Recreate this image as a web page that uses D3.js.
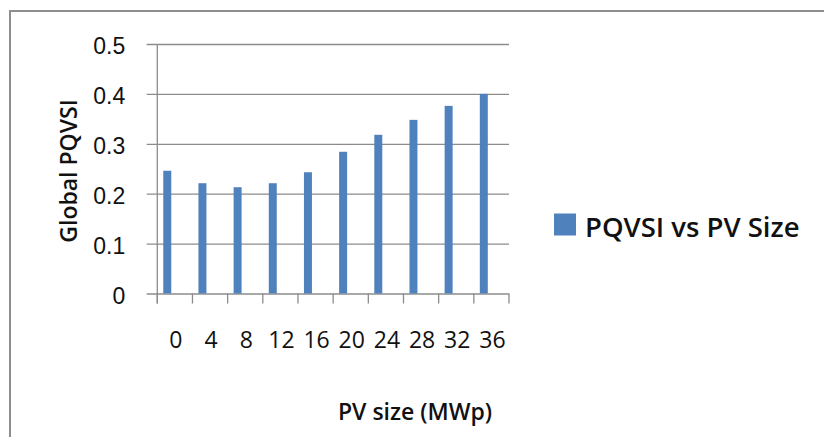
<!DOCTYPE html>
<html>
<head>
<meta charset="utf-8">
<script src="https://cdn.jsdelivr.net/npm/d3@7/dist/d3.min.js"></script>
<style>
  html, body { margin: 0; padding: 0; background: #fff; }
  svg { display: block; font-family: "Open Sans", "Noto Sans", sans-serif; }
</style>
</head>
<body>
<svg id="chart" width="824" height="437"></svg>
<script>
const categories = ["0", "4", "8", "12", "16", "20", "24", "28", "32", "36"];
const pqvsi = [0.246, 0.221, 0.213, 0.221, 0.243, 0.284, 0.318, 0.348, 0.376, 0.400];
const yTicks = [0, 0.1, 0.2, 0.3, 0.4, 0.5];
const seriesName = "PQVSI vs PV Size";
const xTitle = "PV size (MWp)";
const yTitle = "Global PQVSI";

const svg = d3.select("#chart");
const W = 824, H = 437;
const plot = { left: 157.3, right: 509, top: 44, bottom: 293.5 };
const gridColor = "#8c8c8c";
const barColor = "#4f81bd";

// chart area border (only top & left visible)
svg.append("path")
  .attr("d", `M10,${H} L10,11 L${W},11`)
  .attr("fill", "none").attr("stroke", "#8e8e8e").attr("stroke-width", 2);

const x = d3.scaleBand().domain(categories).range([plot.left, plot.right]).paddingInner(0).paddingOuter(0);
const y = d3.scaleLinear().domain([0, 0.5]).range([plot.bottom, plot.top]);

// gridlines + y ticks
const yAxis = d3.axisLeft(y).tickValues(yTicks).tickSize(-(plot.right - plot.left)).tickSizeOuter(0)
  .tickFormat(d => d === 0 ? "0" : d3.format(".1f")(d));
const gy = svg.append("g").attr("transform", `translate(${plot.left},0)`).call(yAxis);
gy.select(".domain").remove();
gy.selectAll(".tick line")
  .attr("x1", -10.6)
  .attr("stroke", gridColor).attr("stroke-width", 1.3);
gy.selectAll(".tick text")
  .attr("x", -32).attr("dy", "0.36em").attr("transform", "translate(0,1.5)")
  .attr("font-size", 23).attr("fill", "#111");

// vertical axis line
svg.append("line")
  .attr("x1", plot.left).attr("x2", plot.left)
  .attr("y1", y(0.5)).attr("y2", y(0) + 10)
  .attr("stroke", gridColor).attr("stroke-width", 1.3);

// x ticks at band boundaries
const bounds = categories.map(c => x(c)).concat([plot.right]);
svg.append("g").selectAll("line").data(bounds).join("line")
  .attr("x1", d => d).attr("x2", d => d)
  .attr("y1", y(0)).attr("y2", y(0) + 10)
  .attr("stroke", gridColor).attr("stroke-width", 1.3);

// x tick labels
svg.append("g").selectAll("text").data(categories).join("text")
  .attr("x", d => x(d) + x.bandwidth() / 2 + 1)
  .attr("y", 348.3)
  .attr("text-anchor", "middle")
  .attr("font-size", 23).attr("fill", "#111")
  .text(d => d);

// bars
const bw = x.bandwidth();
svg.append("g").selectAll("rect").data(pqvsi).join("rect")
  .attr("x", (d, i) => x(categories[i]) + bw * 0.17)
  .attr("width", bw * 0.227)
  .attr("y", d => y(d))
  .attr("height", d => y(0) - y(d))
  .attr("fill", barColor);

// axis titles
svg.append("text")
  .attr("x", 415).attr("y", 420)
  .attr("text-anchor", "middle")
  .attr("font-size", 23).attr("font-weight", 600).attr("fill", "#111")
  .text(xTitle);

svg.append("text")
  .attr("transform", "translate(77,171) rotate(-90)")
  .attr("text-anchor", "middle")
  .attr("font-size", 23).attr("font-weight", 600).attr("fill", "#111")
  .text(yTitle);

// legend
const lg = svg.append("g");
lg.append("rect").attr("x", 554).attr("y", 213.5).attr("width", 22).attr("height", 22).attr("fill", barColor);
lg.append("text").attr("x", 585).attr("y", 236.5)
  .attr("font-size", 27.5).attr("font-weight", 600).attr("fill", "#111")
  .text(seriesName);
</script>
</body>
</html>
